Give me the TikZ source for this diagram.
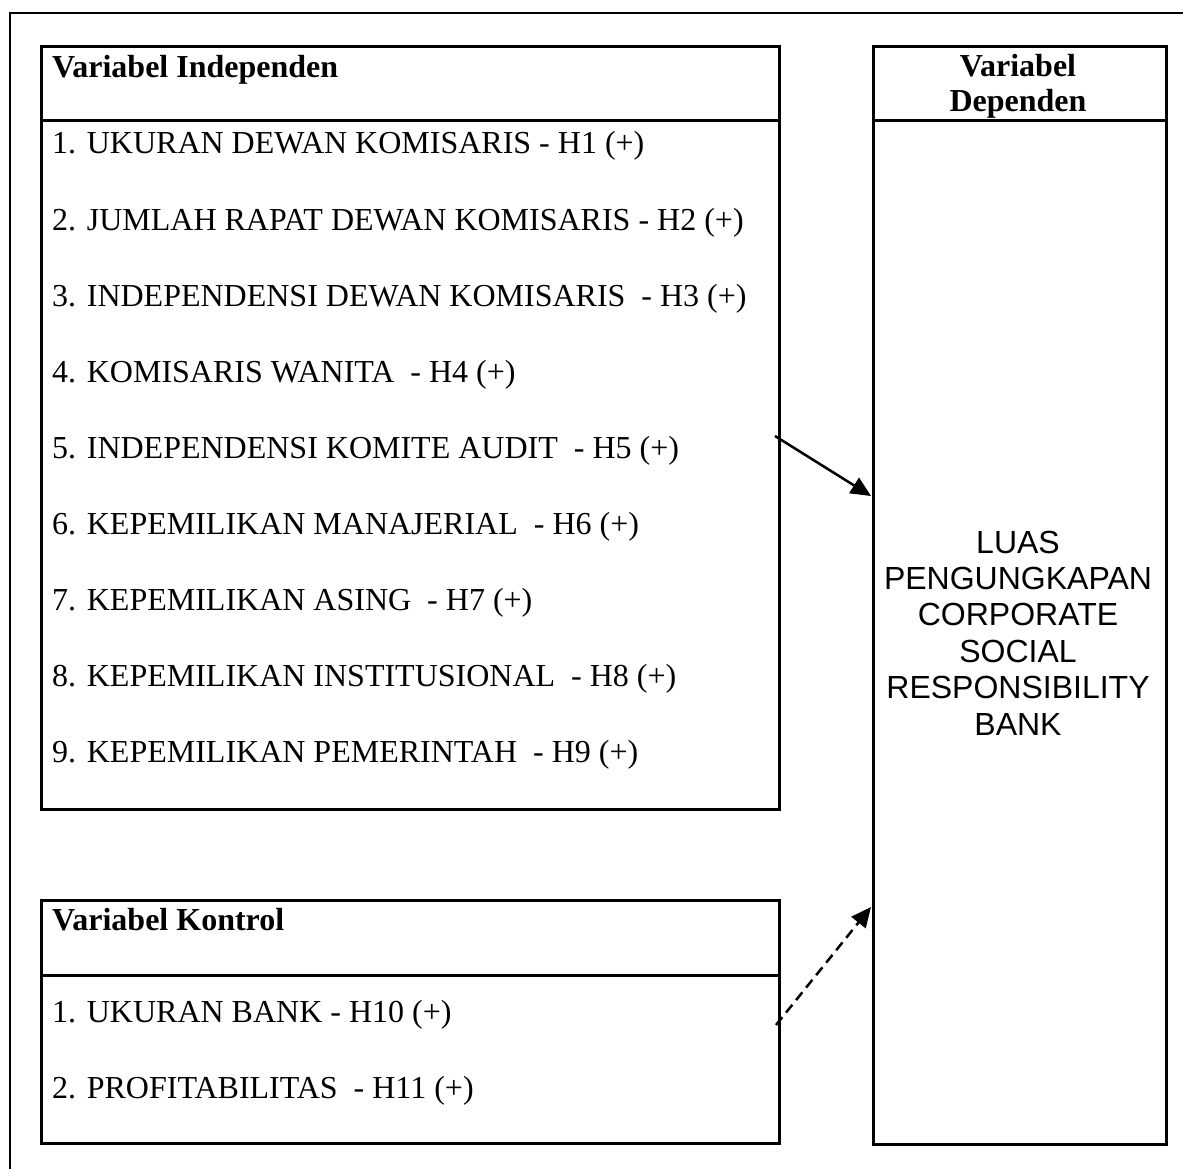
\documentclass[tikz,border=0pt]{standalone}
\usepackage{fontspec}
\setmainfont{Liberation Serif}
\newfontfamily\arialfont{Liberation Sans}
\usetikzlibrary{arrows.meta}
\begin{document}
\begin{tikzpicture}[x=1pt,y=-1pt,
  boxline/.style={draw=black,line width=3pt},
  itemtext/.style={anchor=base west,inner sep=0pt,font=\fontsize{32}{38}\selectfont},
  headtext/.style={anchor=base west,inner sep=0pt,font=\fontsize{32}{38}\selectfont\bfseries},
  link/.style={line width=2.5pt,-{Triangle[length=20pt,width=18pt]}}]
\useasboundingbox (0,0) rectangle (1183,1169);
\fill[white] (0,0) rectangle (1183,1169);
% outer frame
\draw[line width=1.2pt] (10,1175) -- (10,13) -- (1190,13);
% boxes
\node[boxline,minimum width=738pt,minimum height=763pt,anchor=north west,inner sep=0pt] (indep) at (40,45) {};
\draw[line width=3pt] (40,121) -- (778,121);
\node[boxline,minimum width=293pt,minimum height=1098pt,anchor=north west,inner sep=0pt] (dep) at (872,45) {};
\draw[line width=3pt] (872,121) -- (1165,121);
\node[boxline,minimum width=738pt,minimum height=243pt,anchor=north west,inner sep=0pt] (kontrol) at (40,899) {};
\draw[line width=3pt] (40,975) -- (778,975);
% headers
\node[headtext] (hIndep) at (52,78) {Variabel Independen};
\node[anchor=north,inner sep=0pt,align=center,font=\fontsize{32}{35}\selectfont\bfseries] (hDep) at (1018,54) {Variabel\\Dependen};
\node[headtext] (hKon) at (52,930) {Variabel Kontrol};
% items
\node[itemtext] (i1) at (52,154) {1. UKURAN DEWAN KOMISARIS - H1 (+)};
\node[itemtext] (i2) at (52,230) {2. JUMLAH RAPAT DEWAN KOMISARIS - H2 (+)};
\node[itemtext] (i3) at (52,306) {3. INDEPENDENSI DEWAN KOMISARIS \ - H3 (+)};
\node[itemtext] (i4) at (52,382) {4. KOMISARIS WANITA \ - H4 (+)};
\node[itemtext] (i5) at (52,458) {5. INDEPENDENSI KOMITE AUDIT \ - H5 (+)};
\node[itemtext] (i6) at (52,534) {6. KEPEMILIKAN MANAJERIAL \ - H6 (+)};
\node[itemtext] (i7) at (52,610) {7. KEPEMILIKAN ASING \ - H7 (+)};
\node[itemtext] (i8) at (52,686) {8. KEPEMILIKAN INSTITUSIONAL \ - H8 (+)};
\node[itemtext] (i9) at (52,762) {9. KEPEMILIKAN PEMERINTAH \ - H9 (+)};
\node[itemtext] (k1) at (52,1022) {1. UKURAN BANK - H10 (+)};
\node[itemtext] (k2) at (52,1098) {2. PROFITABILITAS \ - H11 (+)};
% dependent text
\node[anchor=center,inner sep=0pt,align=center,font=\arialfont\fontsize{32}{36.4}\selectfont] (depText) at (1018,633) {LUAS\\PENGUNGKAPAN\\CORPORATE\\SOCIAL\\RESPONSIBILITY\\BANK};
% arrows
\coordinate (a1s) at (775,436);
\coordinate (a1e) at (871,496);
\coordinate (a2s) at (776,1025);
\coordinate (a2e) at (871,907);
\draw[link] (a1s) -- (a1e);
\draw[link,dash pattern=on 10pt off 6pt] (a2s) -- (a2e);
\end{tikzpicture}
\end{document}
